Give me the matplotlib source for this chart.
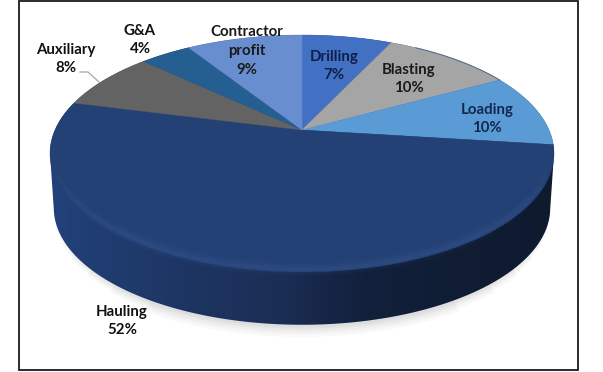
import numpy as np
import matplotlib
matplotlib.use('Agg')
import matplotlib.pyplot as plt
from matplotlib.colors import LinearSegmentedColormap
from matplotlib.patches import Polygon, Rectangle

plt.rcParams['font.family'] = ['Lato', 'DejaVu Sans']

# slices, clockwise from 12 o'clock
labels = ['Drilling', 'Blasting', 'Loading', 'Hauling', 'Auxiliary', 'G&A', 'Contractor\nprofit']
shares = [7, 10, 10, 52, 8, 4, 9]
colors = ['#4270c2', '#a5a5a5', '#5b9bd5', '#244175', '#636363', '#255e91', '#698ed0']

label_xy = [(334, 66), (409, 79), (487, 119), (122, 321), (66, 59), (140, 40), (247, 51)]
label_colors = ['#0e1f4a', '#1a1a1a', '#10284f', '#111111', '#111111', '#111111', '#1a1a1a']

# perspective of the tilted disc
cx, cy = 302, 130
B, A, k = 247, 113.8, 0.198
depth = 55


def project(t, scale=1.0, r=1.0, dy=0):
    x = r * np.sin(t)
    y = r * np.cos(t)
    w = 1 + k * y
    return cx + scale * B * x / w, cy + dy + scale * A * y * -1 / w


fig = plt.figure(figsize=(6.03, 3.72), dpi=100)
ax = fig.add_axes([0, 0, 1, 1])
ax.set_xlim(0, 603)
ax.set_ylim(372, 0)
ax.axis('off')

ax.add_patch(Rectangle((19, 1), 559, 369, fc='white', ec='#1a1a1a', lw=1.3))

tt = np.linspace(0, 2 * np.pi, 721)
ux, uy = project(tt)
lx, ly = project(tt, scale=0.985, dy=depth)
near = np.cos(tt) < -0.2

# soft shadow under the disc, shorter as it gets wider
for lw, lim in [(16, -0.85), (12, -0.75), (9, -0.65), (6, -0.55), (4, -0.45), (2, -0.35)]:
    m = np.cos(tt) < lim
    ax.plot(lx[m], ly[m] + 1, color='#8a8a8a', alpha=0.05, lw=lw,
            solid_capstyle='butt', zorder=1)

# side wall: lower outline in front, upper outline behind
wall_x = np.where(near, lx, ux)
wall_y = np.where(near, ly, uy)
wall = Polygon(np.c_[wall_x, wall_y], closed=True, fc='none', ec='none', zorder=2)
ax.add_patch(wall)
cmap = LinearSegmentedColormap.from_list('side', [
    (0.0, '#23427c'), (0.15, '#1f3a6c'), (0.45, '#1b2e55'),
    (0.62, '#12203c'), (0.85, '#0f1c32'), (1.0, '#0e1a2e')])
img = ax.imshow(np.linspace(0, 1, 256)[None, :], cmap=cmap, aspect='auto',
                extent=(50, 554, 372, 0), zorder=2)
img.set_clip_path(wall)
ax.set_xlim(0, 603)
ax.set_ylim(372, 0)

# top face
edges = np.cumsum([0] + shares) / sum(shares) * 2 * np.pi
for i in range(len(shares)):
    t = np.linspace(edges[i], edges[i + 1], 200)
    px, py = project(t)
    ax.fill(np.r_[cx, px], np.r_[cy, py], color=colors[i], lw=0.3, zorder=3)

# lighter bevel along the front rim of the face
for lw, a, lim in [(10, 0.03, -0.75), (8, 0.03, -0.65), (6, 0.04, -0.55), (4, 0.05, -0.45), (2, 0.06, -0.35)]:
    m = np.cos(tt) < lim
    rx, ry = project(tt[m], r=0.985)
    ax.plot(rx, ry, color='#4f78b5', alpha=a, lw=lw, solid_capstyle='butt', zorder=4)

# thin dark outline on the right end of the loading slice
t = np.linspace(edges[2] - 0.5, edges[2], 60)
px, py = project(t)
ax.plot(px, py, color='#2a4d78', alpha=0.6, lw=0.8, zorder=4)

# leader line for Auxiliary
ax.plot([80, 88, 99], [72, 72, 82], color='#a6a6a6', lw=0.9, zorder=5)

for name, share, (x, y), c in zip(labels, shares, label_xy, label_colors):
    ax.text(x, y, f'{name}\n{share}%', ha='center', va='center', fontsize=10.8,
            fontweight='bold', color=c, linespacing=1.42, zorder=6)

fig.savefig('out.png', dpi=100)
